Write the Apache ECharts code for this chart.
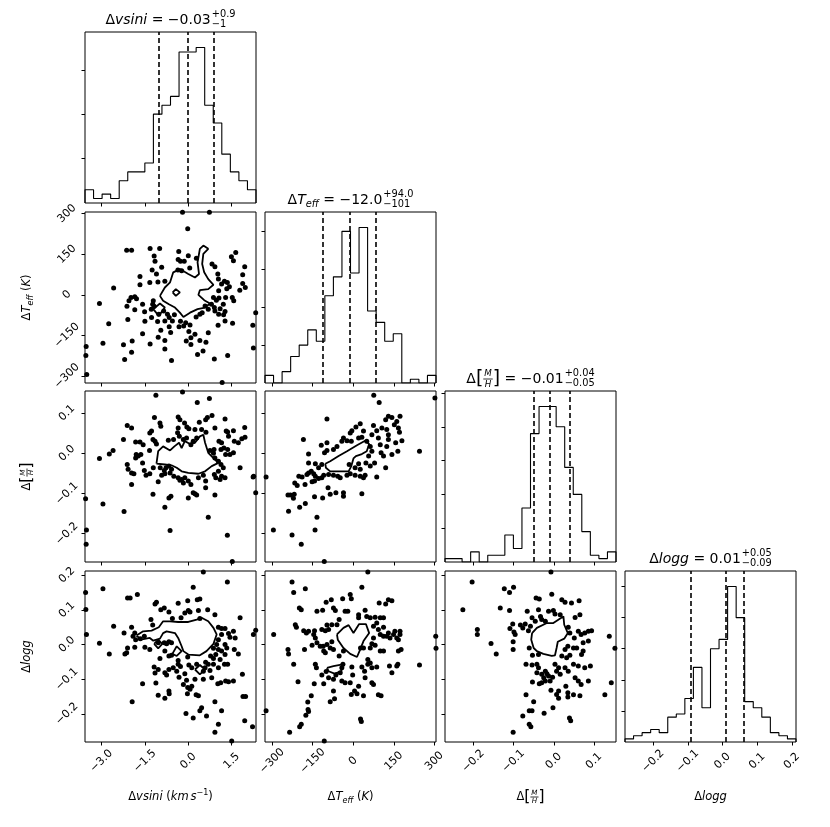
<!DOCTYPE html>
<html>
<head>
<meta charset="utf-8">
<script src="https://cdn.jsdelivr.net/npm/echarts@6/dist/echarts.min.js"></script>
<style>
  html, body { margin: 0; padding: 0; background: #fff; }
  #chart { width: 830px; height: 827px; }
</style>
</head>
<body>
<div id="chart"></div>
<script>
/* ================================
   DATA
================================ */
// axis ranges (histogram ranges) and ticks
const vsiniRange = [-3.57, 2.34];
const teffRange  = [-326, 306];
const mhRange    = [-0.2704, 0.1547];
const loggRange  = [-0.281, 0.212];

const vsiniTicks = [-3, -1.5, 0, 1.5];
const teffTicks  = [-300, -150, 0, 150, 300];
const mhTicks    = [-0.2, -0.1, 0, 0.1];
const loggTicks  = [-0.2, -0.1, 0, 0.1, 0.2];

// 20-bin histogram counts
const vsiniCounts = [3, 1, 2, 1, 5, 7, 7, 9, 20, 22, 24, 34, 34, 35, 22, 18, 11, 7, 5, 3];
const teffCounts  = [2, 0, 3, 7, 10, 14, 11, 23, 28, 40, 29, 41, 19, 16, 11, 13, 0, 1, 0, 2];
const mhCounts    = [1, 1, 0, 3, 0, 2, 2, 8, 4, 16, 38, 46, 46, 40, 28, 20, 9, 2, 1, 3];
const loggCounts  = [1, 2, 3, 4, 3, 8, 9, 14, 24, 11, 30, 33, 50, 40, 13, 11, 8, 3, 2, 1];

const vsiniCountTicks = [10, 20, 30];
const teffCountTicks  = [10, 20, 30, 40];
const mhCountTicks    = [10, 20, 30, 40, 50];
const loggCountTicks  = [10, 20, 30, 40, 50];

// 16th / 50th / 84th percentiles
const vsiniQ = [-1.03, -0.03, 0.87];
const teffQ  = [-113, -12, 82];
const mhQ    = [-0.054, -0.007, 0.039];
const loggQ  = [-0.086, 0.008, 0.058];

// scatter points [x, y]
const ptsVsiniTeff = [[-0.20,305],[0.73,305],[-0.02,244],[-2.13,165],[-1.96,165],[-1.32,171],[-0.99,171],[-0.33,160],[0.00,144],[1.64,156],[1.49,141],[1.56,126],[-1.18,143],[-1.15,124],[-0.35,130],[-0.27,124],[-0.14,124],[0.28,135],[0.82,114],[0.92,104],[1.95,104],[0.05,99],[-0.92,102],[-1.25,92],[-1.67,68],[-1.10,77],[-1.67,37],[-1.33,45],[-1.05,47],[-0.81,50],[-2.58,25],[-0.36,92],[-0.23,89],[1.02,77],[1.04,58],[1.25,50],[1.35,45],[1.15,40],[1.42,30],[1.33,22],[1.05,15],[1.88,74],[1.88,42],[1.97,27],[1.78,17],[-1.98,-10],[-1.85,-7],[-1.79,-15],[-2.05,-22],[-3.07,-32],[-2.12,-42],[-1.58,-35],[-1.21,-22],[-1.23,-35],[-1.18,-42],[-1.28,-53],[0.87,-10],[0.97,-20],[1.06,-12],[1.29,-10],[1.52,-10],[1.57,-22],[0.80,-35],[0.90,-47],[0.92,-60],[1.10,-52],[1.21,-35],[1.27,-62],[1.05,-72],[1.22,-74],[0.58,-41],[0.69,-53],[0.48,-66],[0.40,-72],[0.27,-82],[-1.85,-55],[-1.51,-63],[-1.27,-84],[-1.02,-72],[-0.85,-60],[-0.72,-72],[-0.66,-84],[-0.48,-74],[-2.09,-91],[-1.50,-98],[-1.06,-99],[-0.81,-97],[-0.55,-97],[-0.27,-98],[-0.09,-103],[0.06,-112],[-0.16,-115],[-0.32,-118],[-0.66,-118],[-0.95,-131],[-0.61,-139],[-2.75,-107],[-1.58,-144],[-1.04,-157],[-0.81,-169],[0.02,-136],[0.23,-146],[0.09,-159],[0.40,-169],[0.69,-140],[1.03,-113],[1.27,-97],[1.53,-105],[2.23,-113],[2.33,-66],[-2.95,-179],[-2.24,-185],[-1.94,-171],[-1.32,-182],[-0.81,-200],[-0.07,-171],[0.09,-184],[0.61,-175],[0.51,-208],[0.32,-221],[0.90,-237],[1.36,-224],[2.25,-197],[-3.53,-191],[-3.54,-224],[-1.96,-212],[-2.20,-239],[-0.58,-243],[-3.51,-295],[1.17,-324]];

const ptsVsiniMh = [[-1.12,0.144],[-0.20,0.152],[0.31,0.126],[0.73,0.136],[-1.17,0.089],[-0.35,0.090],[-0.29,0.083],[-0.98,0.075],[-0.95,0.067],[-0.13,0.075],[-0.05,0.065],[0.02,0.061],[0.38,0.077],[0.60,0.083],[0.66,0.089],[0.82,0.094],[1.27,0.085],[0.92,0.063],[0.46,0.059],[0.61,0.052],[0.23,0.059],[-0.35,0.063],[-0.37,0.051],[-0.31,0.042],[-0.51,0.034],[-0.69,0.032],[-2.11,0.069],[-1.96,0.063],[-1.27,0.055],[-1.33,0.050],[-1.22,0.034],[-1.15,0.030],[-1.10,0.023],[-2.24,0.034],[-1.82,0.028],[-1.67,0.028],[-1.56,0.021],[-1.64,-0.003],[-1.73,-0.007],[-1.82,-0.012],[-1.80,-0.003],[-1.34,0.007],[-2.60,0.007],[-2.73,-0.002],[-3.07,-0.013],[-1.58,-0.024],[-2.11,-0.028],[-2.08,-0.040],[-1.96,-0.049],[-1.88,-0.051],[-1.52,-0.043],[-1.46,-0.055],[-1.33,-0.051],[-1.21,-0.036],[-1.96,-0.078],[-1.04,-0.071],[-0.97,-0.036],[-0.92,-0.055],[-0.83,-0.043],[-0.77,-0.036],[-0.67,-0.032],[-0.58,-0.040],[-0.63,-0.049],[-0.81,-0.051],[-0.50,-0.057],[-0.35,-0.061],[-0.23,-0.065],[-0.12,-0.061],[0.00,-0.069],[0.09,-0.078],[-0.17,-0.074],[-0.29,-0.067],[0.35,-0.061],[0.52,-0.055],[0.60,-0.069],[0.60,-0.086],[0.23,-0.101],[0.29,-0.104],[0.17,-0.098],[0.00,-0.111],[-0.60,-0.107],[-0.67,-0.111],[-1.22,-0.102],[-0.81,-0.134],[0.92,-0.104],[0.69,-0.159],[-0.63,-0.192],[-2.22,-0.145],[-2.95,-0.126],[-3.55,-0.113],[-3.52,-0.191],[-3.53,-0.226],[1.35,-0.204],[1.52,-0.269],[2.33,-0.098],[2.24,-0.059],[2.26,-0.057],[1.79,-0.036],[1.27,-0.061],[1.15,-0.057],[1.10,-0.065],[0.95,-0.061],[0.90,-0.053],[1.04,-0.045],[1.21,-0.036],[1.13,-0.028],[1.04,-0.020],[0.92,-0.012],[0.87,0.000],[0.75,0.007],[0.89,0.009],[1.13,0.009],[1.23,0.013],[1.06,0.030],[1.15,0.026],[1.29,-0.003],[1.44,-0.003],[1.56,0.001],[1.36,0.009],[1.39,0.042],[1.36,0.053],[1.56,0.056],[1.31,0.055],[1.59,0.030],[1.73,0.026],[1.85,0.036],[1.96,0.040],[1.95,0.064],[0.29,0.038],[0.17,0.030],[0.09,0.021],[-0.06,0.038],[-0.17,0.034]];

const ptsVsiniLogg = [[0.52,0.209],[1.35,0.180],[0.17,0.165],[-2.95,0.161],[-3.55,0.150],[-3.54,0.101],[-2.10,0.134],[-2.01,0.134],[-1.76,0.144],[-1.15,0.117],[-1.10,0.122],[-0.95,0.100],[-0.83,0.105],[-0.67,0.094],[-0.55,0.075],[-0.35,0.119],[-0.02,0.126],[0.31,0.129],[0.40,0.131],[0.00,0.098],[-0.12,0.091],[0.06,0.094],[0.35,0.098],[0.67,0.100],[0.92,0.086],[-0.25,0.077],[0.40,0.075],[1.79,0.077],[-1.29,0.072],[-1.23,0.056],[-2.58,0.053],[-1.96,0.050],[-2.22,0.033],[-3.52,0.029],[-1.85,0.033],[-1.82,0.014],[-1.91,0.024],[-1.66,0.017],[-1.52,0.024],[-3.07,0.004],[-2.10,-0.010],[-1.85,-0.008],[-1.50,-0.008],[-1.33,-0.014],[-1.04,0.005],[-0.83,0.005],[-0.75,0.002],[-0.67,0.008],[-0.58,0.005],[-2.73,-0.027],[-2.19,-0.027],[-2.13,-0.024],[-0.98,-0.040],[-0.67,-0.033],[-0.58,-0.031],[-0.81,-0.019],[-0.02,-0.036],[-0.35,-0.046],[-1.18,-0.065],[-1.15,-0.082],[-1.04,-0.072],[-0.81,-0.081],[-0.75,-0.088],[-0.67,-0.072],[-0.52,-0.067],[-0.35,-0.057],[-0.27,-0.063],[-0.40,-0.077],[-0.32,-0.094],[-0.12,-0.084],[-0.06,-0.103],[0.02,-0.059],[0.12,-0.067],[0.29,-0.057],[0.23,-0.100],[0.12,-0.120],[-0.02,-0.124],[0.06,-0.129],[-0.17,-0.115],[-0.03,-0.142],[-1.58,-0.113],[-1.12,-0.111],[-0.67,-0.134],[-0.66,-0.142],[-1.04,-0.146],[-0.81,-0.155],[-1.94,-0.165],[0.27,-0.145],[0.35,-0.148],[0.52,-0.100],[0.58,-0.067],[0.60,-0.051],[0.69,-0.057],[0.75,-0.075],[0.81,-0.096],[0.52,-0.077],[0.87,-0.057],[1.04,-0.067],[1.10,-0.043],[1.25,-0.057],[1.36,-0.057],[1.02,-0.113],[1.12,-0.110],[1.29,-0.105],[1.39,-0.107],[1.56,-0.105],[1.87,-0.086],[1.89,-0.150],[1.98,-0.150],[0.92,-0.165],[1.15,-0.191],[0.40,-0.191],[0.46,-0.182],[0.63,-0.206],[-0.08,-0.199],[0.17,-0.212],[1.04,-0.230],[0.92,-0.253],[1.50,-0.278],[1.95,-0.220],[2.22,-0.237],[2.25,0.029],[2.33,0.041],[1.56,0.038],[1.62,0.019],[1.44,0.021],[1.39,0.032],[1.27,0.046],[1.15,0.046],[1.04,0.050],[1.15,0.029],[1.27,0.000],[1.33,-0.010],[1.59,-0.014],[1.73,-0.027],[1.04,0.014],[0.98,0.000],[0.87,-0.011],[1.04,-0.014],[1.15,-0.019],[0.95,-0.029],[0.77,-0.033],[0.87,-0.040],[1.27,-0.029]];

const ptsTeffMh = [[76,0.144],[96,0.126],[302,0.137],[-97,0.085],[-184,0.034],[-322,-0.059],[-295,-0.191],[-226,-0.203],[-192,-0.226],[-107,-0.269],[-141,-0.191],[-134,-0.159],[-239,-0.144],[-198,-0.134],[-177,-0.125],[-241,-0.104],[-232,-0.104],[-218,-0.102],[-221,-0.112],[-143,-0.108],[-113,-0.111],[-93,-0.086],[-85,-0.102],[-64,-0.098],[-36,-0.098],[-36,-0.107],[32,-0.101],[-216,-0.074],[-207,-0.080],[-201,-0.057],[-189,-0.059],[-178,-0.078],[-171,-0.053],[-165,-0.049],[-155,-0.045],[-146,-0.051],[-140,-0.057],[-152,-0.071],[-143,-0.069],[-128,-0.063],[-116,-0.061],[-109,-0.055],[-91,-0.053],[-73,-0.055],[-57,-0.057],[-48,-0.061],[-23,-0.055],[-11,-0.051],[7,-0.055],[26,-0.057],[38,-0.061],[44,-0.055],[87,-0.059],[-165,-0.024],[-140,-0.026],[-128,-0.036],[-116,-0.028],[-165,-0.002],[-118,0.020],[-97,0.026],[-106,0.001],[-97,0.007],[-73,0.009],[-60,0.017],[-42,0.030],[-36,0.038],[-23,0.031],[-11,0.050],[-5,0.056],[-7,0.030],[10,0.065],[26,0.073],[20,0.038],[32,0.040],[38,0.055],[50,0.030],[63,0.017],[69,0.046],[75,0.069],[87,0.056],[93,0.038],[100,0.021],[103,0.001],[112,-0.007],[120,-0.036],[106,0.063],[124,0.059],[130,0.046],[120,0.083],[130,0.092],[143,0.089],[152,0.071],[161,0.079],[167,0.063],[173,0.092],[171,0.052],[180,0.031],[157,0.026],[143,-0.003],[165,0.005],[124,0.017],[130,0.034],[245,0.005],[69,0.005],[57,-0.007],[47,-0.024],[63,-0.032],[79,-0.024],[20,-0.026],[26,-0.040],[7,-0.036],[-15,-0.028]];

const ptsTeffLogg = [[54,0.209],[-226,0.180],[-220,0.150],[-177,0.161],[32,0.165],[-11,0.144],[-7,0.132],[-39,0.132],[-81,0.129],[-100,0.122],[-199,0.105],[-192,0.100],[-134,0.096],[-113,0.099],[-73,0.105],[-66,0.098],[-30,0.096],[-20,0.096],[-52,0.072],[-60,0.057],[-79,0.057],[-91,0.043],[-103,0.040],[-116,0.043],[-97,0.056],[20,0.086],[20,0.077],[44,0.099],[50,0.081],[63,0.077],[81,0.079],[96,0.120],[120,0.117],[130,0.129],[143,0.126],[100,0.077],[112,0.077],[87,0.062],[75,0.053],[93,0.043],[112,0.050],[100,0.029],[112,0.024],[124,0.024],[130,0.033],[136,0.019],[149,0.029],[161,0.019],[167,0.014],[173,0.038],[173,0.029],[154,0.038],[75,0.019],[69,0.002],[81,-0.002],[63,-0.010],[100,-0.019],[112,-0.019],[167,-0.019],[177,-0.014],[38,-0.010],[27,-0.010],[-214,0.057],[-210,0.050],[-183,0.040],[-173,0.033],[-165,0.038],[-143,0.040],[-146,0.029],[-140,0.019],[-152,-0.002],[-134,0.005],[-122,-0.005],[-111,-0.005],[-97,0.000],[-85,-0.010],[-73,-0.014],[-79,0.008],[-103,-0.024],[-109,-0.019],[-52,-0.033],[-36,-0.019],[-294,0.029],[-241,-0.014],[-239,-0.027],[-180,-0.014],[-220,-0.057],[-204,-0.107],[-144,-0.113],[-140,-0.057],[-136,-0.067],[-116,-0.088],[-109,-0.113],[-100,-0.078],[-91,-0.096],[-73,-0.100],[-64,-0.088],[-42,-0.067],[-48,-0.081],[-42,-0.105],[-30,-0.110],[-38,-0.057],[-5,-0.065],[-2,-0.088],[-11,-0.110],[20,-0.120],[32,-0.065],[42,-0.077],[44,-0.096],[54,-0.057],[54,-0.043],[63,-0.053],[69,-0.067],[87,-0.065],[69,-0.110],[75,-0.115],[5,-0.134],[14,-0.142],[-7,-0.144],[38,-0.148],[93,-0.145],[103,-0.148],[134,-0.062],[143,-0.081],[161,-0.062],[165,-0.057],[245,-0.059],[305,0.024],[306,-0.011],[-155,-0.148],[-168,-0.166],[-167,-0.187],[-165,-0.193],[-175,-0.204],[-192,-0.230],[-198,-0.237],[-235,-0.253],[-107,-0.278],[-85,-0.165],[-69,-0.156],[-73,-0.134],[-322,-0.191],[27,-0.215],[30,-0.222]];

const ptsMhLogg = [[-0.007,0.209],[-0.203,0.180],[-0.123,0.161],[-0.100,0.165],[-0.110,0.150],[-0.226,0.100],[-0.133,0.105],[-0.110,0.098],[-0.044,0.134],[-0.036,0.131],[-0.005,0.145],[0.020,0.129],[0.028,0.122],[0.044,0.120],[0.063,0.126],[-0.066,0.096],[-0.038,0.100],[-0.013,0.096],[-0.001,0.098],[0.003,0.088],[0.016,0.086],[0.065,0.086],[0.053,0.078],[-0.054,0.077],[-0.046,0.067],[-0.033,0.081],[-0.030,0.072],[-0.021,0.067],[-0.102,0.059],[-0.109,0.046],[-0.099,0.036],[-0.096,0.029],[-0.083,0.056],[-0.077,0.048],[-0.071,0.059],[-0.063,0.040],[-0.058,0.053],[-0.190,0.043],[-0.190,0.029],[-0.156,0.003],[-0.143,-0.027],[-0.101,0.008],[-0.101,-0.014],[-0.061,-0.010],[-0.053,-0.031],[-0.038,-0.029],[0.036,0.050],[0.040,0.033],[0.051,0.019],[0.061,0.038],[0.068,0.029],[0.077,0.033],[0.086,0.038],[0.094,0.040],[0.086,0.010],[0.073,0.005],[0.057,-0.010],[0.049,-0.010],[0.035,-0.005],[0.028,-0.014],[0.020,-0.033],[0.032,-0.038],[0.040,-0.031],[0.073,-0.019],[0.069,-0.029],[0.138,0.024],[0.152,-0.011],[0.143,-0.110],[0.127,-0.145],[-0.069,-0.057],[-0.054,-0.059],[-0.042,-0.057],[-0.038,-0.067],[-0.042,-0.081],[-0.030,-0.086],[-0.021,-0.077],[-0.017,-0.084],[-0.013,-0.091],[-0.025,-0.096],[-0.021,-0.105],[-0.009,-0.105],[-0.030,-0.110],[-0.036,-0.113],[-0.053,-0.108],[0.003,-0.057],[0.012,-0.067],[0.007,-0.077],[0.016,-0.086],[-0.003,-0.094],[0.028,-0.067],[0.036,-0.077],[0.049,-0.057],[0.061,-0.062],[0.077,-0.067],[0.091,-0.062],[0.053,-0.096],[0.061,-0.105],[0.068,-0.115],[0.086,-0.105],[0.030,-0.120],[-0.007,-0.132],[0.012,-0.134],[0.007,-0.144],[0.012,-0.155],[0.035,-0.139],[0.035,-0.151],[0.049,-0.145],[0.065,-0.148],[-0.069,-0.145],[-0.050,-0.165],[-0.061,-0.191],[-0.054,-0.191],[-0.077,-0.206],[-0.024,-0.198],[-0.002,-0.182],[0.039,-0.212],[0.042,-0.220],[-0.061,-0.230],[-0.057,-0.237],[-0.101,-0.253]];

// contour outlines (closed polylines)
const ctVsiniTeff = [
  [[-0.98,-4],[-0.81,27],[-0.63,46],[-0.52,83],[-0.29,95],[0.00,77],[0.23,64],[0.37,77],[0.32,120],[0.40,170],[0.52,182],[0.69,170],[0.52,151],[0.48,114],[0.55,83],[0.69,58],[0.87,37],[0.69,21],[0.40,17],[0.35,0],[0.55,-20],[0.75,-32],[0.58,-47],[0.32,-53],[0.06,-66],[-0.17,-82],[-0.29,-66],[-0.46,-47],[-0.67,-35],[-0.87,-22]],
  [[-0.54,9],[-0.43,21],[-0.29,9],[-0.43,-4]],
  [[-1.21,-53],[-0.98,-32],[-0.81,-47],[-1.02,-78]]
];
const ctVsiniMh = [
  [[-1.10,-0.026],[-1.04,0.005],[-0.87,0.017],[-0.63,0.007],[-0.48,0.017],[-0.32,0.026],[-0.23,0.013],[-0.12,0.030],[0.06,0.023],[0.23,0.026],[0.40,0.042],[0.52,0.046],[0.58,0.026],[0.69,0.001],[0.92,-0.016],[1.04,-0.024],[0.81,-0.032],[0.58,-0.045],[0.35,-0.051],[0.00,-0.049],[-0.23,-0.045],[-0.40,-0.036],[-0.58,-0.030],[-0.81,-0.028]]
];
const ctVsiniLogg = [
  [[-1.79,0.026],[-1.56,0.038],[-1.27,0.040],[-1.02,0.050],[-0.87,0.067],[-0.63,0.067],[-0.35,0.065],[0.00,0.065],[0.29,0.072],[0.46,0.077],[0.69,0.067],[0.87,0.048],[0.98,0.029],[0.87,0.002],[0.63,-0.019],[0.40,-0.031],[0.00,-0.029],[-0.17,-0.019],[-0.23,-0.005],[-0.35,0.019],[-0.46,0.033],[-0.75,0.038],[-0.87,0.033],[-0.98,0.017],[-1.21,0.011],[-1.33,0.019],[-1.64,0.014]],
  [[-1.18,0.002],[-1.04,0.014],[-0.90,0.002],[-1.04,-0.011]],
  [[-0.55,-0.027],[-0.40,-0.005],[-0.23,-0.019],[-0.40,-0.033]],
  [[0.23,-0.072],[0.40,-0.059],[0.58,-0.072],[0.40,-0.086]]
];
const ctTeffMh = [
  [[-103,-0.026],[-85,-0.020],[-54,-0.007],[-23,0.005],[14,0.020],[44,0.031],[59,0.023],[50,0.005],[32,-0.002],[10,-0.007],[1,-0.013],[-7,-0.032],[-17,-0.045],[-54,-0.045],[-85,-0.045],[-101,-0.036]]
];
const ctTeffLogg = [
  [[-60,0.029],[-36,0.048],[-17,0.056],[1,0.033],[22,0.059],[47,0.059],[59,0.033],[38,0.010],[26,-0.014],[14,-0.036],[-11,-0.027],[-36,-0.010],[-57,0.014]],
  [[-97,-0.067],[-73,-0.062],[-39,-0.057],[-44,-0.077],[-69,-0.084],[-91,-0.077]]
];
const ctMhLogg = [
  [[-0.054,0.033],[-0.042,0.048],[-0.017,0.062],[-0.001,0.062],[0.016,0.075],[0.024,0.081],[0.026,0.057],[0.035,0.033],[0.026,0.017],[0.010,0.008],[0.007,-0.010],[0.003,-0.031],[-0.005,-0.033],[-0.026,-0.027],[-0.042,-0.019],[-0.050,-0.010],[-0.056,0.014]]
];

/* ================================
   LABEL TEXT (mathtext-like pieces)
================================ */
const titles = [
  [{t:'Δ'},{t:'vsini',it:1},{t:' = −0.03'},{sup:'+0.9',sub:'−1'}],
  [{t:'Δ'},{t:'T',it:1},{t:'eff',it:1,scale:0.7,dy:0.3},{t:' = −12.0'},{sup:'+94.0',sub:'−101'}],
  [{t:'Δ'},{t:'[',scale:1.35},{num:'M',den:'H'},{t:']',scale:1.35},{t:' = −0.01'},{sup:'+0.04',sub:'−0.05'}],
  [{t:'Δ'},{t:'logg',it:1},{t:' = 0.01'},{sup:'+0.05',sub:'−0.09'}]
];
const axisNames = [
  [{t:'Δ'},{t:'vsini',it:1},{t:' ('},{t:'km',it:1},{t:' ',scale:0.5},{t:'s',it:1},{t:'−1',scale:0.7,dy:-0.35},{t:')'}],
  [{t:'Δ'},{t:'T',it:1},{t:'eff',it:1,scale:0.7,dy:0.3},{t:' ('},{t:'K',it:1},{t:')'}],
  [{t:'Δ'},{t:'[',scale:1.35},{num:'M',den:'H'},{t:']',scale:1.35}],
  [{t:'Δ'},{t:'logg',it:1}]
];

/* ================================
   SETUP
================================ */
const FONT = '"DejaVu Sans", sans-serif';
const colLeft = [85, 265, 445, 625];
const rowTop  = [32, 212, 391, 571];
const SIZE = 171;

const minus = (v, d) => (v < 0 ? '−' : '') + Math.abs(v).toFixed(d);
const vars = [
  { range: vsiniRange, ticks: vsiniTicks, fmt: v => minus(v, 1), counts: vsiniCounts, cticks: vsiniCountTicks, q: vsiniQ },
  { range: teffRange,  ticks: teffTicks,  fmt: v => minus(v, 0), counts: teffCounts,  cticks: teffCountTicks,  q: teffQ },
  { range: mhRange,    ticks: mhTicks,    fmt: v => minus(v, 1), counts: mhCounts,    cticks: mhCountTicks,    q: mhQ },
  { range: loggRange,  ticks: loggTicks,  fmt: v => minus(v, 1), counts: loggCounts,  cticks: loggCountTicks,  q: loggQ }
];
const scatterData = {
  '1,0': [ptsVsiniTeff, ctVsiniTeff],
  '2,0': [ptsVsiniMh, ctVsiniMh],
  '2,1': [ptsTeffMh, ctTeffMh],
  '3,0': [ptsVsiniLogg, ctVsiniLogg],
  '3,1': [ptsTeffLogg, ctTeffLogg],
  '3,2': [ptsMhLogg, ctMhLogg]
};

const ctx = document.createElement('canvas').getContext('2d');
const fontStr = (size, it) => (it ? 'italic ' : '') + size + 'px ' + FONT;
function tw(text, size, it) { ctx.font = fontStr(size, it); return ctx.measureText(text).width; }

function mathLabel(cx, cy, parts, base, rot) {
  const kids = [];
  let x = 0;
  const txt = (t, px, py, size, it) => kids.push({
    type: 'text', x: px, y: py,
    style: { text: t, font: fontStr(size, it), fill: '#000', align: 'left', verticalAlign: 'middle' }
  });
  parts.forEach(p => {
    if (p.sup !== undefined) {
      const s = base * 0.7;
      const w = Math.max(tw(p.sup, s), tw(p.sub, s));
      txt(p.sup, x + 1, -base * 0.38, s);
      txt(p.sub, x + 1, base * 0.3, s);
      x += w + 1;
    } else if (p.num !== undefined) {
      const s = base * 0.62;
      const wn = tw(p.num, s, true), wd = tw(p.den, s, true), w = Math.max(wn, wd) + 2;
      txt(p.num, x + (w - wn) / 2, -base * 0.34, s, true);
      txt(p.den, x + (w - wd) / 2, base * 0.38, s, true);
      kids.push({ type: 'line', shape: { x1: x, y1: 0, x2: x + w, y2: 0 }, style: { stroke: '#000', lineWidth: 0.8 } });
      x += w;
    } else {
      const s = base * (p.scale || 1);
      txt(p.t, x, (p.dy || 0) * base, s, p.it);
      x += tw(p.t, s, p.it);
    }
  });
  kids.forEach(k => {
    if (k.type === 'text') k.x -= x / 2;
    else { k.shape.x1 -= x / 2; k.shape.x2 -= x / 2; }
  });
  return { type: 'group', x: cx, y: cy, rotation: rot || 0, children: kids };
}

// tick labels are rotated 45 degrees and centred on their own middle,
// like matplotlib's rotated tick labels
function axis(gridIndex, range, ticks, fmt, showLabel, pos) {
  return {
    type: 'value', gridIndex, min: range[0], max: range[1], position: pos,
    axisLine: { show: false, onZero: false },
    splitLine: { show: false },
    axisTick: { show: true, inside: false, length: 3.5, customValues: ticks, lineStyle: { color: '#000', width: 1 } },
    axisLabel: {
      show: showLabel, customValues: ticks, formatter: fmt, rotate: 45,
      align: 'center', verticalAlign: 'middle',
      margin: pos === 'bottom' ? 19 : 18,
      fontSize: 11, fontFamily: FONT, color: '#000'
    }
  };
}

/* ================================
   BUILD PANELS
================================ */
const grids = [], xAxes = [], yAxes = [], series = [];
for (let r = 0; r < 4; r++) {
  for (let c = 0; c <= r; c++) {
    const k = grids.length;
    grids.push({ left: colLeft[c], top: rowTop[r], width: SIZE, height: SIZE, show: true,
                 borderColor: '#000', borderWidth: 1, backgroundColor: 'transparent' });
    const vx = vars[c];
    xAxes.push(axis(k, vx.range, vx.ticks, vx.fmt, r === 3, 'bottom'));

    if (r === c) {
      // histogram panel
      const cmax = Math.max(...vx.counts);
      yAxes.push(axis(k, [0, cmax * 1.1], vx.cticks, v => v, false, 'left'));
      const n = vx.counts.length;
      const step = (vx.range[1] - vx.range[0]) / n;
      const line = [[vx.range[0], 0]];
      vx.counts.forEach((cnt, i) => {
        line.push([vx.range[0] + i * step, cnt]);
        line.push([vx.range[0] + (i + 1) * step, cnt]);
      });
      line.push([vx.range[1], 0]);
      series.push({
        type: 'line', xAxisIndex: k, yAxisIndex: k, data: line, symbol: 'none', silent: true,
        lineStyle: { color: '#000', width: 1.1 },
        markLine: {
          silent: true, symbol: ['none', 'none'], label: { show: false },
          lineStyle: { color: '#000', width: 1.6, type: [5, 3] },
          data: vx.q.map(q => ({ xAxis: q }))
        }
      });
    } else {
      const vy = vars[r];
      yAxes.push(axis(k, vy.range, vy.ticks, vy.fmt, c === 0, 'left'));
      const [pts, conts] = scatterData[r + ',' + c];
      series.push({
        type: 'scatter', xAxisIndex: k, yAxisIndex: k, data: pts, symbolSize: 5,
        itemStyle: { color: '#000', opacity: 1 }, silent: true
      });
      conts.forEach(poly => {
        series.push({
          type: 'line', xAxisIndex: k, yAxisIndex: k, data: poly.concat([poly[0]]),
          symbol: 'none', silent: true, lineStyle: { color: '#000', width: 1.8 }
        });
      });
    }
  }
}

/* ================================
   TITLES + AXIS NAMES
================================ */
const graphics = [];
for (let i = 0; i < 4; i++) {
  graphics.push(mathLabel(colLeft[i] + SIZE / 2, rowTop[i] - 12, titles[i], 14, 0));
  graphics.push(mathLabel(colLeft[i] + SIZE / 2, 797, axisNames[i], 11.5, 0));
  if (i > 0) graphics.push(mathLabel(27, rowTop[i] + SIZE / 2, axisNames[i], 11.5, Math.PI / 2));
}

const chart = echarts.init(document.getElementById('chart'));
chart.setOption({
  animation: false,
  backgroundColor: '#fff',
  grid: grids,
  xAxis: xAxes,
  yAxis: yAxes,
  series: series,
  graphic: graphics
});
</script>
</body>
</html>
